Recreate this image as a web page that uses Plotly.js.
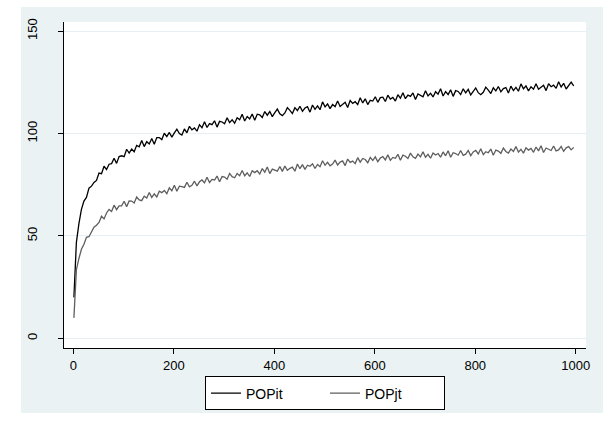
<!DOCTYPE html>
<html>
<head>
<meta charset="utf-8">
<script src="https://cdn.plot.ly/plotly-3.0.1.min.js"></script>
<style>
  html, body { margin: 0; padding: 0; background: #ffffff; width: 603px; height: 421px; overflow: hidden; }
  #chart { position: absolute; left: 21px; top: 7px; width: 582px; height: 406px; }
</style>
</head>
<body>
<div id="chart"></div>
<script>
// time index: first observation and spacing of the sampled readings
var tStart = 1;
var tStep = 5;

// POPit (black), every 5 periods
var popit = [20,47,56,63,67.0,68.8,73.3,74.3,76.1,77.1,
80.7,80.4,84.0,82.4,85.0,85.3,87.9,85.4,88.7,89.1,
88.7,92.3,90.4,92.4,91.1,94.2,93.5,96.6,93.6,96.0,
94.9,97.5,94.7,98.0,98.0,97.0,100.1,98.5,100.5,98.2,
100.3,102.1,100.0,99.2,102.2,100.3,103.5,101.8,102.7,101.1,
104.3,102.8,105.7,102.9,104.8,104.3,106.2,103.1,105.9,105.6,
104.7,107.7,105.3,106.7,105.0,107.7,106.7,109.4,106.1,108.3,
107.1,109.5,106.4,109.4,109.1,107.8,110.7,108.9,110.7,108.2,
110.2,111.9,109.6,108.7,110.0,112.6,111.3,109.7,112.6,111.2,
113.3,110.8,112.4,113.1,110.4,113.9,111.8,113.5,111.6,115.4,
113.0,114.4,112.1,114.1,113.1,115.8,113.2,114.4,115.2,112.7,
116.1,114.7,115.5,114.1,117.4,114.9,116.9,114.1,116.2,115.8,
117.9,115.2,117.5,117.7,115.6,118.7,116.8,117.6,115.8,118.9,
117.2,119.9,117.0,118.7,118.1,119.8,116.6,119.3,118.8,117.9,
120.8,118.3,119.6,117.8,120.4,119.2,121.8,118.3,120.4,119.0,
121.3,118.1,120.9,120.5,119.0,121.8,119.8,121.5,118.8,120.7,
122.2,119.9,118.9,120.1,122.6,121.2,119.5,122.3,120.8,122.9,
120.3,121.9,122.4,119.7,123.1,120.9,122.5,120.6,124.2,121.8,
123.2,120.8,122.8,121.6,124.3,121.6,122.8,123.5,120.9,124.3,
122.8,123.6,122.0,125.2,122.7,124.5,121.7,123.7,125.1,123.2];

// POPjt (gray), every 5 periods
var popjt = [10,33.5,39,43.5,45.9,49.3,49.6,52.4,54.3,55.2,
56.6,59.6,58.3,61.2,62.9,61.9,65.0,62.8,64.7,64.7,
66.9,64.3,67.1,67.0,66.1,69.0,67.6,67.2,69.4,68.5,
71.2,68.8,70.5,69.0,71.8,71.1,72.2,70.6,73.5,72.0,
74.7,71.8,74.3,74.1,73.7,76.2,74.0,74.7,76.7,74.4,
76.4,77.3,75.9,78.6,76.1,77.6,77.3,79.2,76.4,79.0,
78.7,77.7,80.5,78.9,78.4,80.5,79.4,81.9,79.3,80.8,
79.0,81.8,80.9,81.8,80.2,82.9,81.1,83.6,80.4,82.6,
82.2,81.6,83.9,81.5,84.1,82.0,83.0,83.6,81.6,85.1,
82.8,84.8,82.5,84.5,84.0,85.2,82.9,84.9,83.8,86.7,
84.5,85.9,84.2,85.1,87.0,84.6,86.0,86.6,84.3,87.5,
85.9,86.5,85.3,88.2,86.0,87.8,87.3,85.7,88.3,86.8,
88.6,86.2,88.0,88.7,87.1,89.6,86.9,88.3,87.9,89.8,
86.9,89.4,88.9,87.8,90.4,88.6,87.9,89.9,88.6,91.1,
88.4,89.8,87.9,90.5,89.5,90.2,88.4,91.0,89.1,91.6,
88.4,90.6,90.2,89.4,91.7,89.3,89.9,91.7,89.2,91.0,
91.7,90.0,92.5,89.7,91.1,90.6,92.4,89.4,91.9,91.4,
90.3,92.9,91.2,90.4,92.4,91.2,93.6,90.9,92.3,90.4,
93.0,91.9,92.7,90.8,93.4,91.5,94.0,90.7,92.9,92.4,
91.7,93.9,91.5,92.0,93.7,91.3,93.0,93.6,92.0,93.2];

var seriesNames = ["POPit", "POPjt"];
var xTicks = [0, 200, 400, 600, 800, 1000];
var yTicks = [0, 50, 100, 150];

var FONT = "Liberation Sans, Arial, Helvetica, sans-serif";

var traces = [
  { type: "scatter", mode: "lines", name: seriesNames[0], x0: tStart, dx: tStep, y: popit,
    line: { color: "#000000", width: 1.3 } },
  { type: "scatter", mode: "lines", name: seriesNames[1], x0: tStart, dx: tStep, y: popjt,
    line: { color: "#5e5e5e", width: 1.3 } }
];

var layout = {
  width: 582, height: 406,
  margin: { l: 43, r: 17, t: 15, b: 65, pad: 0, autoexpand: false },
  paper_bgcolor: "#eaf2f3",
  plot_bgcolor: "#ffffff",
  font: { family: FONT, size: 13, color: "#000000" },
  showlegend: true,
  legend: {
    orientation: "h", xref: "paper", x: 0.5, xanchor: "center",
    yref: "container", y: 0.09, yanchor: "top",
    bordercolor: "#000000", borderwidth: 1, bgcolor: "#ffffff",
    font: { family: FONT, size: 14, color: "#000000" },
    entrywidth: 74, entrywidthmode: "pixels", tracegroupgap: 0
  },
  xaxis: {
    range: [-18.7, 1020.5], tickvals: xTicks, ticktext: xTicks.map(String),
    showgrid: false, zeroline: false, showline: true, linecolor: "#000000", linewidth: 1,
    ticks: "outside", ticklen: 5, tickcolor: "#000000", tickwidth: 1,
    tickfont: { family: FONT, size: 13, color: "#000000" }, mirror: false
  },
  yaxis: {
    range: [-4.7, 154.4], tickvals: yTicks, ticktext: yTicks.map(String),
    showgrid: true, gridcolor: "#e6eff1", gridwidth: 1, zeroline: false,
    showline: true, linecolor: "#000000", linewidth: 1,
    ticks: "outside", ticklen: 5, tickcolor: "#000000", tickwidth: 1,
    tickangle: -90, ticklabelstandoff: 16,
    tickfont: { family: FONT, size: 13, color: "#000000" }
  }
};

Plotly.newPlot("chart", traces, layout, { staticPlot: true, displayModeBar: false });
</script>
</body>
</html>
